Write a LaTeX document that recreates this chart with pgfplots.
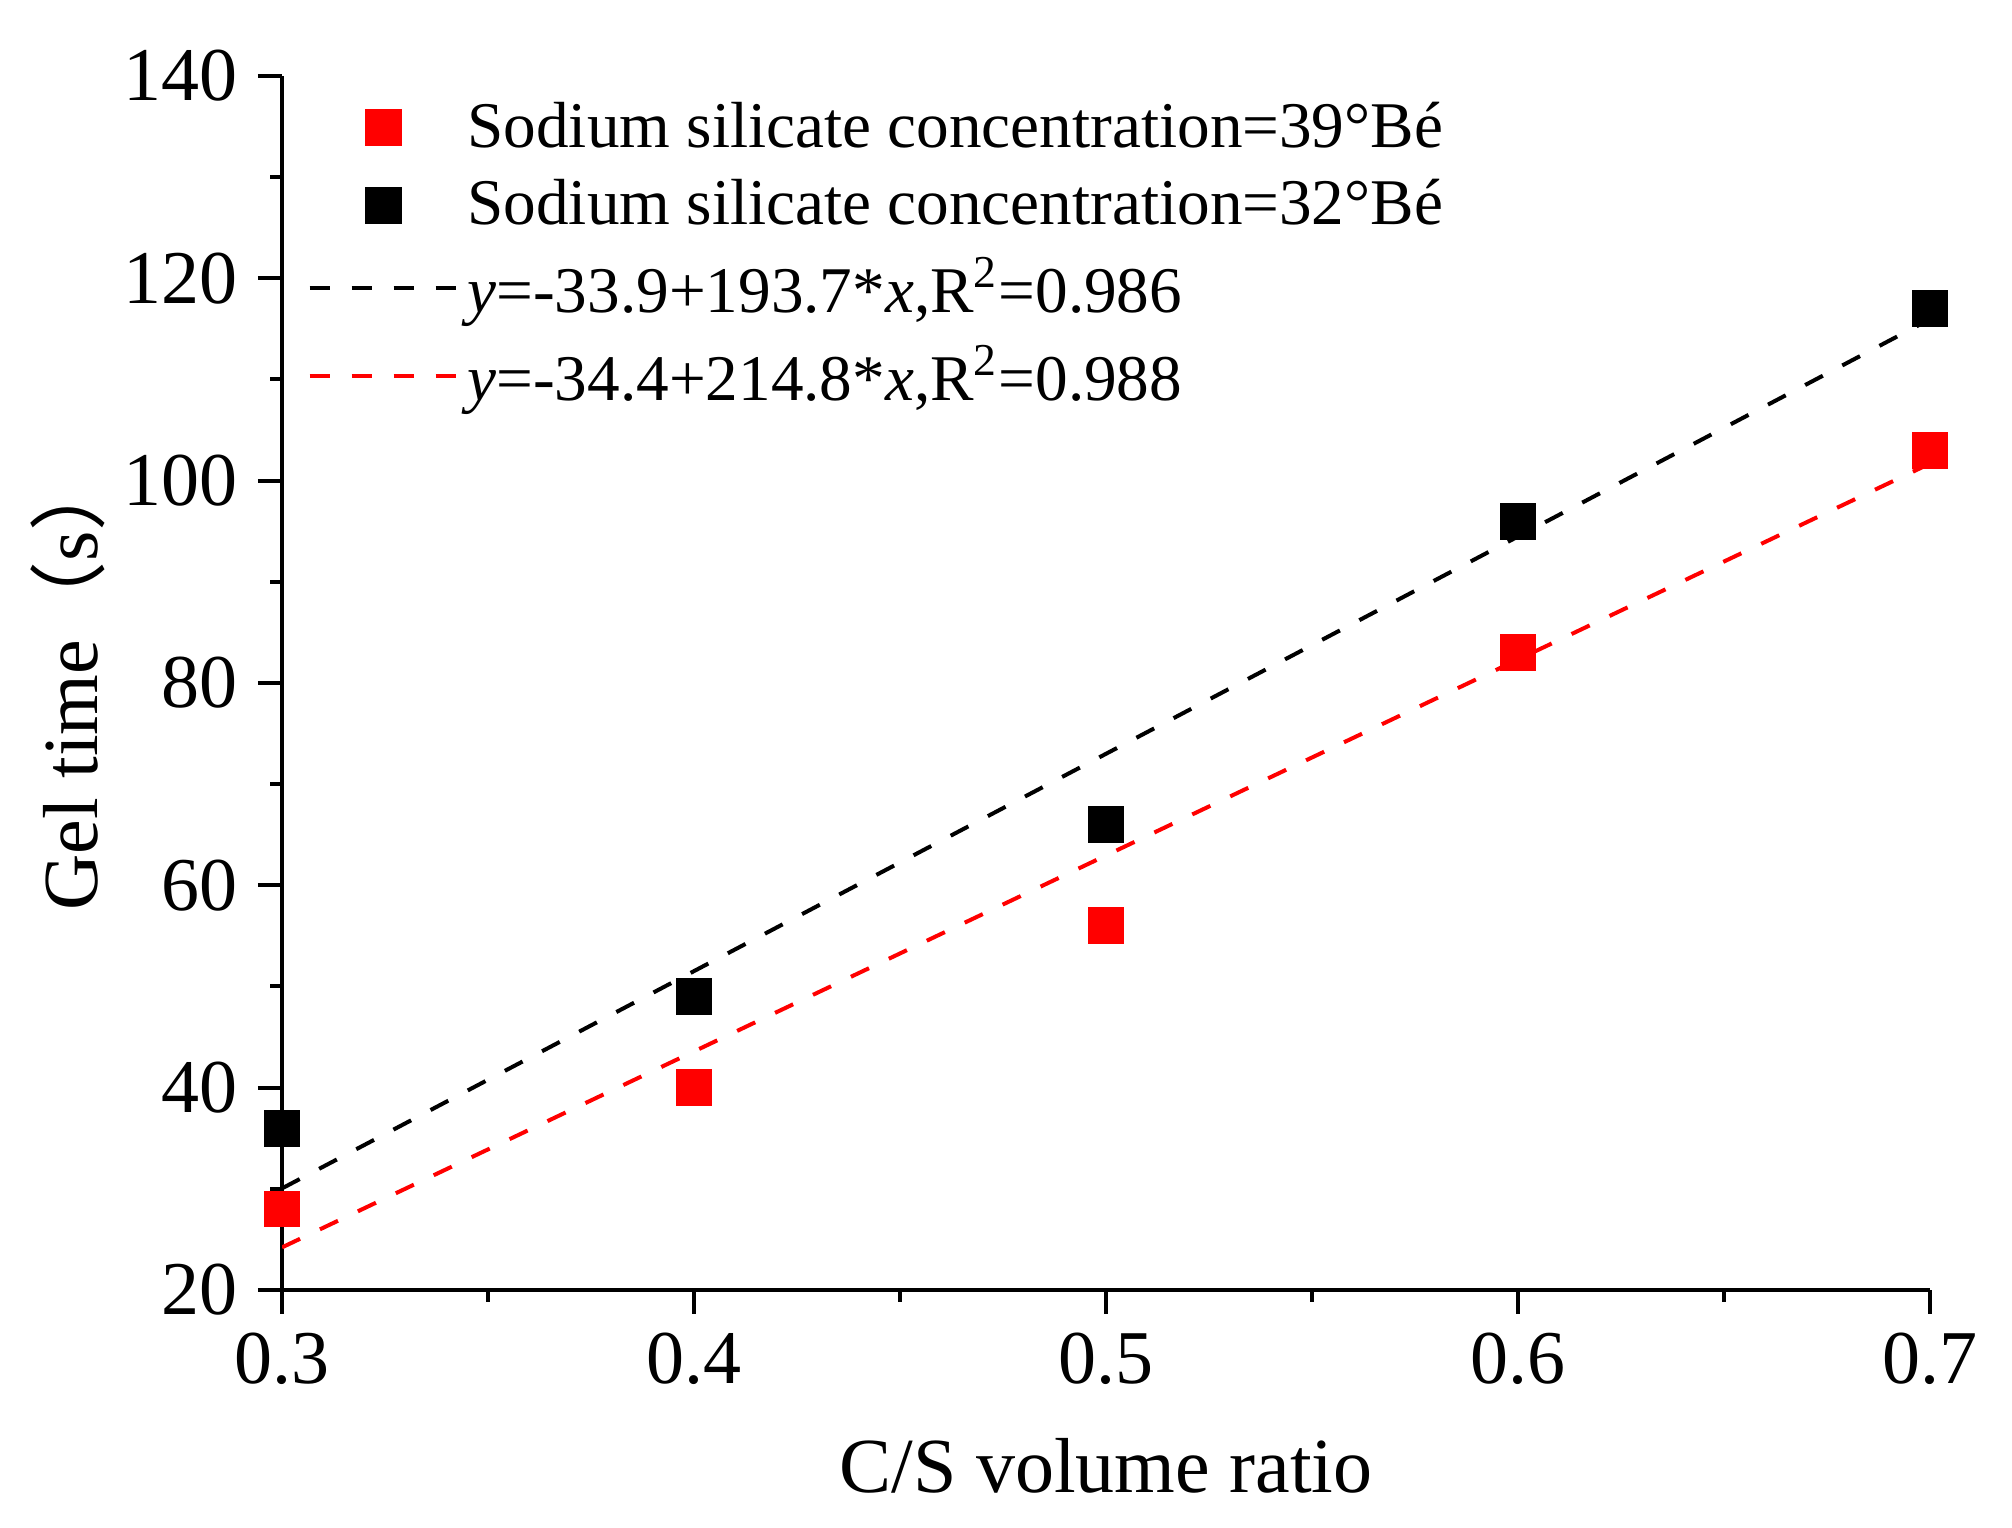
\documentclass[border=0pt]{standalone}
\usepackage{fontspec}
\setmainfont{Liberation Serif}
\newfontfamily\cjk{Noto Sans CJK SC}
\usepackage{pgfplots}
\pgfplotsset{compat=1.18}
\begin{document}
\begin{tikzpicture}
\begin{axis}[
  at={(70.5pt,59.5pt)}, anchor=south west,
  scale only axis, width=412pt, height=303.5pt,
  xmin=0.3, xmax=0.7, ymin=20, ymax=140,
  axis lines=left, axis line style={-, line width=1pt},
  xtick={0.3,0.4,0.5,0.6,0.7}, ytick={20,40,...,140},
  minor tick num=1,
  tick align=outside, major tick length=6pt, minor tick length=3pt,
  every tick/.style={black, line width=1pt},
  /pgf/number format/assume math mode=true,
  /pgf/number format/fixed, /pgf/number format/precision=1,
  ticklabel style={font=\fontsize{19}{22}\selectfont},
  xticklabel style={anchor=north, inner sep=0pt, yshift=-4.5pt},
  yticklabel style={anchor=east, inner sep=0pt, xshift=-5pt},
  xlabel={C/S volume ratio},
  ylabel={Gel time{\cjk （}s{\cjk ）}},
  label style={font=\fontsize{19.5}{23}\selectfont},
  xlabel style={at={(axis description cs:0.5,-0.1672)}, anchor=base},
  ylabel style={at={(axis description cs:-0.1119,0.5008)}, anchor=base, rotate=0},
  legend cell align=left,
  legend style={at={(axis description cs:0.015,0.986)}, anchor=north west,
    draw=none, fill=none, inner sep=0pt, row sep=2.6pt,
    font=\fontsize{16.3}{19.5}\selectfont,
    nodes={inner sep=2pt}},
  legend image code/.code={\draw[mark repeat=2,mark phase=2,#1] plot coordinates {(0pt,0pt)(18.5pt,0pt)(37pt,0pt)};},
]
\addplot[black, line width=1pt, dash pattern=on 5pt off 5.5pt, forget plot] coordinates {(0.3,30.04) (0.7,115.96)};
\addplot[red, line width=1pt, dash pattern=on 5pt off 5.5pt, forget plot] coordinates {(0.3,24.21) (0.7,101.69)};
\addplot[only marks, mark=square*, mark size=4.4pt, red, mark options={draw=red, fill=red}] coordinates {(0.3,28) (0.4,40) (0.5,56) (0.6,83) (0.7,103)};
\addplot[only marks, mark=square*, mark size=4.4pt, black, mark options={draw=black, fill=black}] coordinates {(0.3,36) (0.4,49) (0.5,66) (0.6,96) (0.7,117)};
\addlegendimage{black, line width=1pt, dash pattern=on 5pt off 5.5pt}
\addlegendimage{red, line width=1pt, dash pattern=on 5pt off 5.5pt}
\legend{{Sodium silicate concentration=39°Bé}, {Sodium silicate concentration=32°Bé}, {\textit{y}=-33.9+193.7*\textit{x},R\textsuperscript{2}=0.986}, {\textit{y}=-34.4+214.8*\textit{x},R\textsuperscript{2}=0.988}}
\end{axis}
\pgfresetboundingbox
\useasboundingbox (0,0) rectangle (503pt,382pt);
\end{tikzpicture}
\end{document}
